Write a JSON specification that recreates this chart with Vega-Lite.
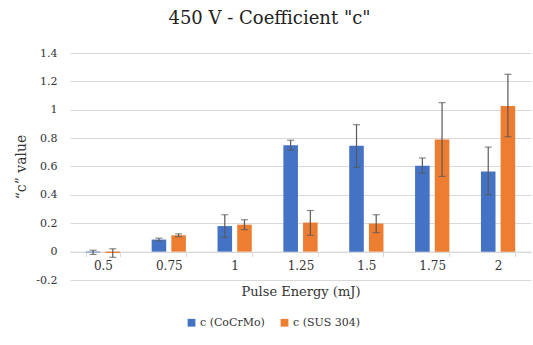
{
  "$schema": "https://vega.github.io/schema/vega-lite/v6.json",
  "autosize": {"type": "none"},
  "width": 461,
  "height": 227,
  "padding": {"left": 70, "top": 53, "right": 2, "bottom": 65},
  "background": "white",
  "config": {
    "font": "DejaVu Serif",
    "view": {"stroke": null}
  },
  "title": {
    "text": "450 V - Coefficient  \"c\"",
    "font": "DejaVu Serif",
    "fontSize": 18,
    "fontWeight": "normal",
    "color": "#222222",
    "anchor": "middle",
    "dx": -31,
    "offset": 19
  },
  "data": {
    "values": [
      {"energy": "0.5", "series": "c (CoCrMo)", "value": -0.005, "lo": -0.02, "hi": 0.01},
      {"energy": "0.5", "series": "c (SUS 304)", "value": -0.01, "lo": -0.04, "hi": 0.02},
      {"energy": "0.75", "series": "c (CoCrMo)", "value": 0.085, "lo": 0.075, "hi": 0.095},
      {"energy": "0.75", "series": "c (SUS 304)", "value": 0.115, "lo": 0.105, "hi": 0.125},
      {"energy": "1", "series": "c (CoCrMo)", "value": 0.18, "lo": 0.1, "hi": 0.26},
      {"energy": "1", "series": "c (SUS 304)", "value": 0.19, "lo": 0.155, "hi": 0.225},
      {"energy": "1.25", "series": "c (CoCrMo)", "value": 0.75, "lo": 0.715, "hi": 0.785},
      {"energy": "1.25", "series": "c (SUS 304)", "value": 0.205, "lo": 0.115, "hi": 0.29},
      {"energy": "1.5", "series": "c (CoCrMo)", "value": 0.747, "lo": 0.594, "hi": 0.895},
      {"energy": "1.5", "series": "c (SUS 304)", "value": 0.198, "lo": 0.134, "hi": 0.26},
      {"energy": "1.75", "series": "c (CoCrMo)", "value": 0.605, "lo": 0.553, "hi": 0.66},
      {"energy": "1.75", "series": "c (SUS 304)", "value": 0.79, "lo": 0.53, "hi": 1.05},
      {"energy": "2", "series": "c (CoCrMo)", "value": 0.565, "lo": 0.4, "hi": 0.737},
      {"energy": "2", "series": "c (SUS 304)", "value": 1.027, "lo": 0.81, "hi": 1.25}
    ]
  },
  "encoding": {
    "x": {
      "field": "energy",
      "type": "nominal",
      "sort": ["0.5", "0.75", "1", "1.25", "1.5", "1.75", "2"],
      "scale": {"paddingInner": 0.48, "paddingOuter": 0.24},
      "axis": {
        "title": "Pulse Energy  (mJ)",
        "offset": -28.4,
        "labelAngle": 0,
        "labelFontSize": 12,
        "labelColor": "#333333",
        "labelPadding": 4,
        "domainColor": "#d9d9d9",
        "tickColor": "#d9d9d9",
        "tickBand": "extent",
        "tickSize": 5,
        "titleFontSize": 13,
        "titleFontWeight": "normal",
        "titleColor": "#333333",
        "titlePadding": 14
      }
    },
    "xOffset": {
      "field": "series",
      "type": "nominal",
      "scale": {"paddingInner": 0.26, "paddingOuter": 0}
    },
    "y": {
      "field": "value",
      "type": "quantitative",
      "scale": {"domain": [-0.2, 1.4], "nice": false, "zero": false},
      "axis": {
        "title": "“c” value",
        "values": [-0.2, 0, 0.2, 0.4, 0.6, 0.8, 1, 1.2, 1.4],
        "labelExpr": "toString(round(datum.value*10)/10)",
        "labelOverlap": false,
        "domain": false,
        "ticks": false,
        "gridColor": "#d9d9d9",
        "labelFontSize": 11,
        "labelColor": "#333333",
        "labelPadding": 13,
        "titleFontSize": 14,
        "titleFontWeight": "normal",
        "titleColor": "#333333",
        "titlePadding": 7
      }
    }
  },
  "layer": [
    {
      "mark": {"type": "bar"},
      "encoding": {
        "color": {
          "field": "series",
          "type": "nominal",
          "scale": {"domain": ["c (CoCrMo)", "c (SUS 304)"], "range": ["#4472C4", "#ED7D31"]},
          "legend": {
            "title": null,
            "orient": "none",
            "direction": "horizontal",
            "legendX": 116,
            "legendY": 264,
            "symbolType": "square",
            "symbolSize": 60,
            "symbolStrokeWidth": 0,
            "labelFontSize": 11,
            "labelColor": "#333333",
            "columnPadding": 14,
            "labelOffset": 3
          }
        }
      }
    },
    {
      "mark": {"type": "rule", "color": "#595959", "strokeWidth": 1.2},
      "encoding": {
        "y": {"field": "lo", "type": "quantitative"},
        "y2": {"field": "hi"}
      }
    },
    {
      "mark": {"type": "tick", "color": "#595959", "thickness": 1.2, "size": 7},
      "encoding": {
        "y": {"field": "lo", "type": "quantitative"}
      }
    },
    {
      "mark": {"type": "tick", "color": "#595959", "thickness": 1.2, "size": 7},
      "encoding": {
        "y": {"field": "hi", "type": "quantitative"}
      }
    }
  ]
}
